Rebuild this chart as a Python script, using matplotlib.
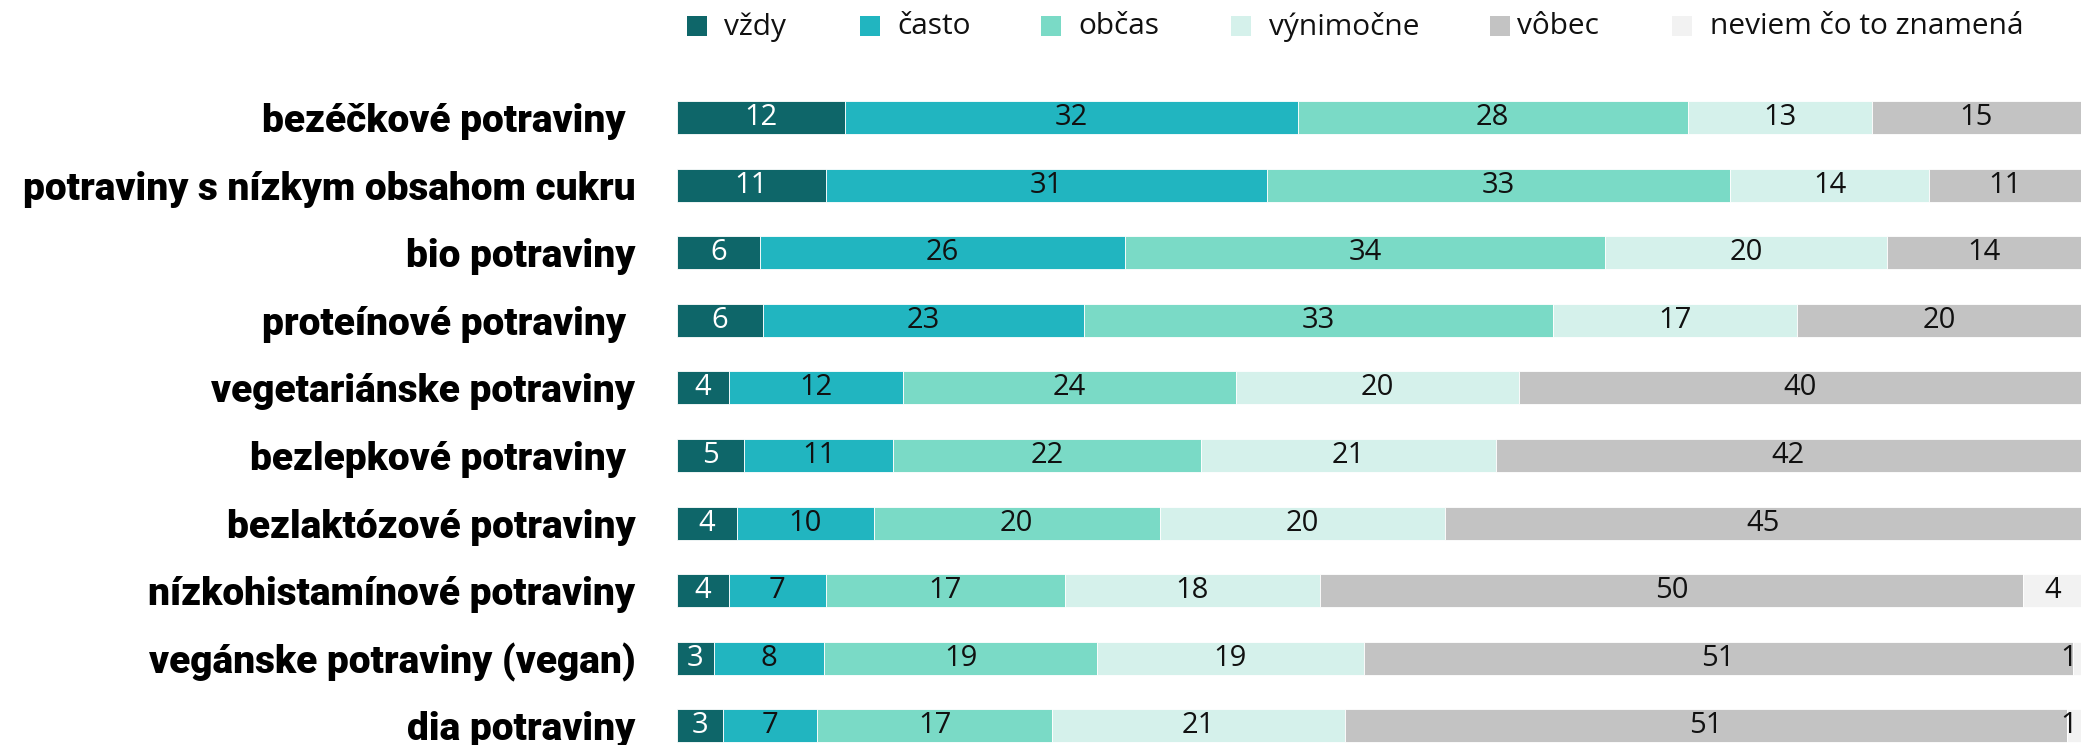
import numpy as np
import matplotlib
matplotlib.use("Agg")
import matplotlib.pyplot as plt
from matplotlib.patches import Rectangle

# ---- data ----
categories = ["bezéčkové potraviny ", "potraviny s nízkym obsahom cukru", "bio potraviny",
              "proteínové potraviny ", "vegetariánske potraviny", "bezlepkové potraviny ",
              "bezlaktózové potraviny", "nízkohistamínové potraviny",
              "vegánske potraviny (vegan)", "dia potraviny"]
series_names = ["vždy", "často", "občas", "výnimočne", "vôbec", "neviem čo to znamená"]
vzdy = [12.0, 10.6, 5.9, 6.1, 3.7, 4.8, 4.3, 3.7, 2.6, 3.3]
casto = [32.2, 31.4, 26.0, 22.9, 12.4, 10.6, 9.7, 6.9, 7.9, 6.7]
obcas = [27.8, 33.0, 34.2, 33.4, 23.7, 21.9, 20.4, 17.0, 19.4, 16.7]
vynimocne = [13.1, 14.2, 20.1, 17.4, 20.2, 21.0, 20.3, 18.2, 19.0, 20.9]
vobec = [14.9, 10.8, 13.8, 20.2, 40.0, 41.7, 45.3, 50.1, 50.5, 51.4]
neviem = [0, 0, 0, 0, 0, 0, 0, 4.1, 0.6, 1.0]

colors = ["#0e6669", "#21b5c0", "#7adac6", "#d5f1eb", "#c3c3c3", "#f2f2f2"]
text_colors = ["white", "#111111", "#111111", "#111111", "#111111", "#111111"]

W, H = 2082, 745
fig = plt.figure(figsize=(W / 100, H / 100), dpi=100)
ax = fig.add_axes([677 / W, 0, (2081 - 677) / W, (745 - 83.7) / H])

y = np.arange(len(categories))
left = np.zeros(len(categories))
all_series = [vzdy, casto, obcas, vynimocne, vobec, neviem]
for vals, col, tc in zip(all_series, colors, text_colors):
    vals = np.array(vals, dtype=float)
    ax.barh(y, vals, left=left, height=0.488, color=col, edgecolor="white", linewidth=0.6)
    for yi, (l, v) in enumerate(zip(left, vals)):
        if v <= 0:
            continue
        cx = min(l + v / 2, 99.1)
        ax.text(cx, yi, str(int(v + 0.5)), ha="center", va="center", color=tc,
                fontsize=21, family="Open Sans")
    left += vals

ax.set_xlim(0, 100)
ax.set_ylim(9.283, -0.5)
ax.set_xticks([])
ax.set_yticks(y)
ax.set_yticklabels(categories, fontsize=28, family="Roboto", fontweight="black", color="black")
ax.tick_params(axis="y", length=0, pad=30)
for s in ax.spines.values():
    s.set_visible(False)

# ---- legend (manual) ----
sq_left = [687, 860, 1041, 1231, 1490, 1672]
txt_left = [724, 897, 1078, 1269, 1517, 1710]
for name, col, sx, tx in zip(series_names, colors, sq_left, txt_left):
    fig.patches.append(Rectangle((sx / W, 1 - 36 / H), 20 / W, 20 / H, transform=fig.transFigure,
                                 facecolor=col, edgecolor="none"))
    fig.text(tx / W, 1 - 27 / H, name, ha="left", va="center", fontsize=21.5, family="Open Sans",
             color="#111111")

fig.savefig("out.png", dpi=100)
